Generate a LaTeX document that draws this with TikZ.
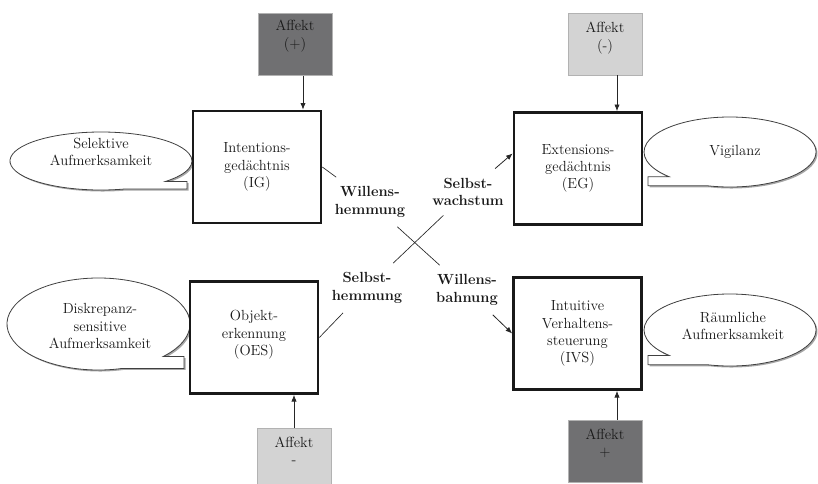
\documentclass[tikz,border=0pt]{standalone}
\usepackage{amsmath}
\usetikzlibrary{arrows.meta}

\definecolor{affdark}{RGB}{112,112,114}
\definecolor{afflight}{RGB}{211,211,211}
\definecolor{txtgray}{RGB}{25,25,25}

\begin{document}
\begin{tikzpicture}[x=0.75pt,y=0.75pt,yscale=-1,xscale=1,
	every node/.style={font=\fontsize{11}{13}\selectfont, text=txtgray},
	system/.style={draw=black!90, line width=2pt, fill=white, align=center, inner sep=0pt, minimum width=96pt, minimum height=84pt},
	affekt/.style={fill=#1, draw=black!30, line width=0.6pt, inner sep=0pt, minimum width=55.5pt, minimum height=46.5pt},
	afftext/.style={align=center, inner sep=1pt},
	pathlabel/.style={font=\fontsize{11}{13}\selectfont\bfseries, align=center, inner xsep=2pt, inner ysep=7pt},
	bubble/.style={draw=black!75, line width=0.6pt, fill=white},
	bubbleshadow/.style={fill=black!35, draw=none},
	bubbletext/.style={align=center, inner sep=1pt},
	arr/.style={-{Latex[length=5pt,width=4pt]}, line width=0.6pt, draw=black!85},
	plain/.style={line width=0.5pt, draw=black!85}]
		\useasboundingbox (0,0) rectangle (818,483);

		\draw [bubbleshadow, shift={(1.5,1.5)}] (101,161) ++(75:91 and 29) arc[start angle=75, end angle=405, x radius=91, y radius=29] -- (187,181.5) -- (187,189) -- cycle ;
		\draw [bubble] (101,161) ++(75:91 and 29) arc[start angle=75, end angle=405, x radius=91, y radius=29] -- (187,181.5) -- (187,189) -- cycle ;
		\draw [bubbleshadow, shift={(1.5,1.5)}] (98.5,324) ++(75:91.5 and 46) arc[start angle=75, end angle=405, x radius=91.5, y radius=46] -- (184,356.5) -- (184,368.4) -- cycle ;
		\draw [bubble] (98.5,324) ++(75:91.5 and 46) arc[start angle=75, end angle=405, x radius=91.5, y radius=46] -- (184,356.5) -- (184,368.4) -- cycle ;
		\draw [bubbleshadow, shift={(1.5,1.5)}] (730,152) ++(105:86 and 35) arc[start angle=105, end angle=-225, x radius=86, y radius=35] -- (648,176.7) -- (648,185.8) -- cycle ;
		\draw [bubble] (730,152) ++(105:86 and 35) arc[start angle=105, end angle=-225, x radius=86, y radius=35] -- (648,176.7) -- (648,185.8) -- cycle ;
		\draw [bubbleshadow, shift={(1.5,1.5)}] (730,330) ++(105:86 and 36) arc[start angle=105, end angle=-225, x radius=86, y radius=36] -- (648,355.5) -- (648,364.8) -- cycle ;
		\draw [bubble] (730,330) ++(105:86 and 36) arc[start angle=105, end angle=-225, x radius=86, y radius=36] -- (648,355.5) -- (648,364.8) -- cycle ;

		\node [bubbletext] (selbub) at (101,152) {Selektive\\Aufmerksamkeit};
		\node [bubbletext] (disbub) at (100,326) {Diskrepanz-\\sensitive\\Aufmerksamkeit};
		\node [bubbletext] (vigbub) at (735,152) {Vigilanz};
		\node [bubbletext] (raubub) at (733,326) {Räumliche\\Aufmerksamkeit};

		\node [system] (IG) at (257,167) {Intentions-\\gedächtnis\\(IG)};
		\node [system] (EG) at (578,168.5) {Extensions-\\gedächtnis\\(EG)};
		\node [system] (OES) at (254,337.5) {Objekt-\\erkennung\\(OES)\\[-6pt]\mbox{}};
		\node [system] (IVS) at (577.5,333.5) {Intuitive\\Verhaltens-\\steuerung\\(IVS)};

		\node [affekt=affdark] (affIG) at (295,44.5) {};
		\node [affekt=afflight] (affEG) at (605,44) {};
		\node [affekt=afflight] (affOES) at (294,459) {};
		\node [affekt=affdark] (affIVS) at (605,451) {};
		\node [afftext] (affIGtxt) at (295,36) {Affekt\\(+)};
		\node [afftext] (affEGtxt) at (605,38) {Affekt\\(-)};
		\node [afftext] (affOEStxt) at (294,451) {Affekt\\-};
		\node [afftext] (affIVStxt) at (605,443.5) {Affekt\\+};

		\draw [arr] ([xshift=6pt]affIG.south) -- ([xshift=6pt]affIG.south |- IG.north);
		\draw [arr] ([xshift=9pt]affEG.south) -- ([xshift=9pt]affEG.south |- EG.north);
		\draw [arr] (affOES.north) -- (affOES.north |- OES.south);
		\draw [arr] ([xshift=9pt]affIVS.north) -- ([xshift=9pt]affIVS.north |- IVS.south);

		\node [pathlabel] (wh) at (370,202) {Willens-\\hemmung};
		\node [pathlabel] (wb) at (467,290) {Willens-\\bahnung};
		\node [pathlabel] (sh) at (367,288) {Selbst-\\hemmung};
		\node [pathlabel] (sw) at (468,192) {Selbst-\\wachstum};

		\draw [plain] (IG.east) -- (wh);
		\draw [plain] (wh) -- (wb);
		\draw [arr] (wb) -- (IVS.west);
		\draw [plain] (OES.east) -- (sh);
		\draw [plain] (sh) -- (sw);
		\draw [arr] (sw) -- (EG.167);
\end{tikzpicture}
\end{document}
